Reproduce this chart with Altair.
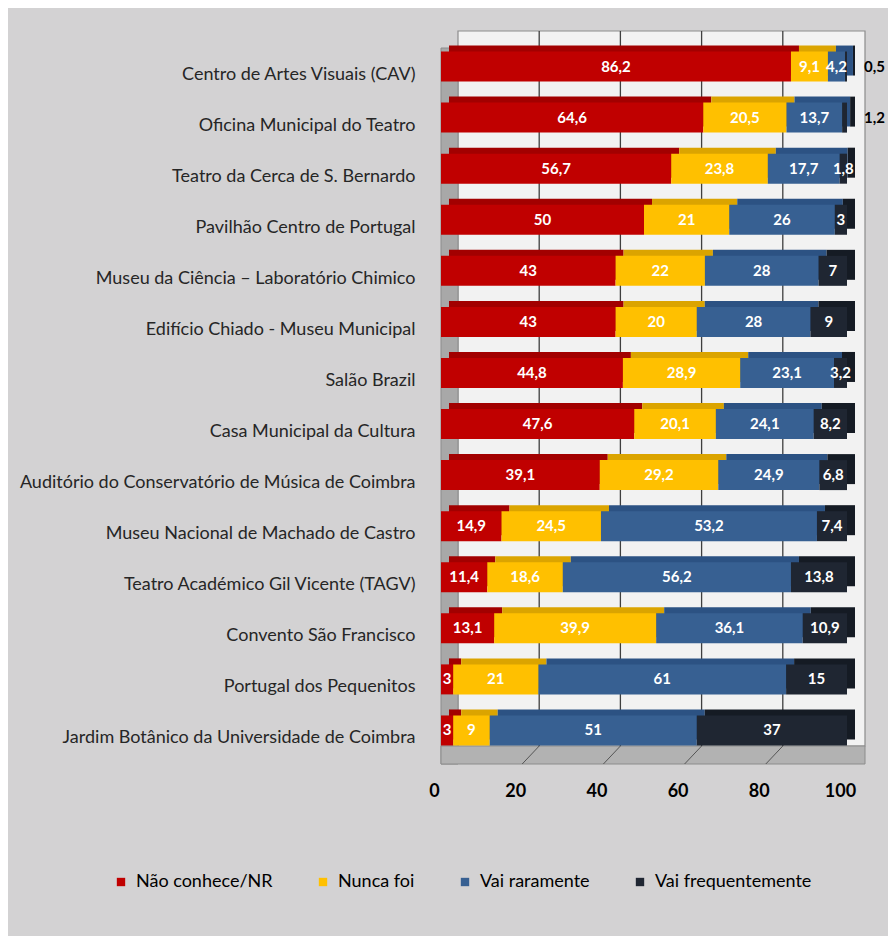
import altair as alt
import pandas as pd

categories = [
    "Centro de Artes Visuais (CAV)",
    "Oficina Municipal do Teatro",
    "Teatro da Cerca de S. Bernardo",
    "Pavilhão Centro de Portugal",
    "Museu da Ciência – Laboratório Chimico",
    "Edifício Chiado - Museu Municipal",
    "Salão Brazil",
    "Casa Municipal da Cultura",
    "Auditório do Conservatório de Música de Coimbra",
    "Museu Nacional de Machado de Castro",
    "Teatro Académico Gil Vicente (TAGV)",
    "Convento São Francisco",
    "Portugal dos Pequenitos",
    "Jardim Botânico da Universidade de Coimbra",
]
nao_conhece = [86.2, 64.6, 56.7, 50, 43, 43, 44.8, 47.6, 39.1, 14.9, 11.4, 13.1, 3, 3]
nunca_foi = [9.1, 20.5, 23.8, 21, 22, 20, 28.9, 20.1, 29.2, 24.5, 18.6, 39.9, 21, 9]
vai_raramente = [4.2, 13.7, 17.7, 26, 28, 28, 23.1, 24.1, 24.9, 53.2, 56.2, 36.1, 61, 51]
vai_frequentemente = [0.5, 1.2, 1.8, 3, 7, 9, 3.2, 8.2, 6.8, 7.4, 13.8, 10.9, 15, 37]

series = ["Não conhece/NR", "Nunca foi", "Vai raramente", "Vai frequentemente"]
colors = ["#c00000", "#ffc000", "#376092", "#1f2632"]
depth_colors = ["#a20000", "#dba400", "#2c5283", "#151b24"]
ticks = [0, 20, 40, 60, 80, 100]

rows = []
for i, c in enumerate(categories):
    for j, vals in enumerate([nao_conhece, nunca_foi, vai_raramente, vai_frequentemente]):
        v = vals[i]
        lab = (str(int(v)) if float(v).is_integer() else str(v)).replace(".", ",")
        rows.append({"cat": c, "serie": series[j], "ord": j, "value": v,
                     "label": lab, "dcol": depth_colors[j]})
df = pd.DataFrame(rows)

W, H = 406, 715
FONT = "Lato"

base = alt.Chart(df).transform_stack(
    stack="value", as_=["x0", "x1"], groupby=["cat"], sort=[alt.SortField("ord")]
).transform_calculate(mid="(datum.x0 + datum.x1) / 2")

xscale = alt.Scale(domain=[0, 100], nice=False, zero=True)
yenc = alt.Y("cat:N", sort=categories, title=None,
             axis=alt.Axis(labelFont=FONT, labelFontSize=18, labelColor="#262626",
                           labelPadding=26, domain=False, ticks=False, labelLimit=600))

grid_df = pd.DataFrame({"t": ticks})

wall = alt.Chart(grid_df).mark_rect(fill="#f2f2f2", stroke="#8c8c8c", strokeWidth=1.2).encode(
    x=alt.value(17), x2=alt.value(W + 18), y=alt.value(-18), y2=alt.value(H - 18)
).transform_filter("datum.t == 0")

left_wall = alt.Chart(grid_df).mark_rect(fill="#a8a8a8", stroke="#8c8c8c", strokeWidth=1).encode(
    x=alt.value(0), x2=alt.value(17), y=alt.value(-1), y2=alt.value(H)
).transform_filter("datum.t == 0")

floor = alt.Chart(grid_df).mark_rect(fill="#b2b2b2", stroke="#8c8c8c", strokeWidth=1).encode(
    x=alt.value(0), x2=alt.value(W + 18), y=alt.value(H - 18), y2=alt.value(H)
).transform_filter("datum.t == 0")

grid = alt.Chart(grid_df).mark_rule(color="#3f3f3f", strokeWidth=1.3, xOffset=17).encode(
    x=alt.X("t:Q", scale=xscale),
    y=alt.value(-18), y2=alt.value(H - 18)
).transform_filter("datum.t > 0 && datum.t < 100")

floor_lines = alt.Chart(grid_df).mark_rule(color="#555555", strokeWidth=1, x2Offset=17).encode(
    x=alt.X("t:Q", scale=xscale), x2="t:Q",
    y=alt.value(H), y2=alt.value(H - 18)
).transform_filter("datum.t > 0 && datum.t < 100")

depth = base.mark_bar(size=30, xOffset=8, x2Offset=8, yOffset=-14, y2Offset=-14).encode(
    x=alt.X("x0:Q", scale=xscale), x2="x1:Q",
    y=yenc,
    fill=alt.Fill("dcol:N", scale=None, legend=None),
)

front = base.mark_bar(size=30, yOffset=-8, y2Offset=-8).encode(
    x=alt.X("x0:Q", scale=xscale,
            axis=alt.Axis(values=ticks, grid=False, domain=False, ticks=False,
                          labelFont=FONT, labelFontSize=18, labelFontWeight="bold",
                          labelColor="#000000", labelPadding=18, labelOffset=-7,
                          labelFlush=False),
            title=None),
    x2="x1:Q",
    y=yenc,
    color=alt.Color("serie:N", scale=alt.Scale(domain=series, range=colors),
                    sort=series,
                    legend=alt.Legend(title=None, orient="none", direction="horizontal",
                                      legendX=-329, legendY=824,
                                      symbolType="square", symbolSize=70,
                                      symbolStrokeWidth=0,
                                      labelFont=FONT, labelFontSize=18, labelColor="#000000",
                                      columnPadding=41, labelOffset=6, labelLimit=300)),
)

labels_in = base.transform_filter("datum.value >= 1.5").mark_text(
    font=FONT, fontSize=15, fontWeight="bold", color="white", yOffset=-8
).encode(
    x=alt.X("mid:Q", scale=xscale), y=yenc, text="label:N"
)

labels_out = base.transform_filter("datum.value < 1.5").mark_text(
    font=FONT, fontSize=15, fontWeight="bold", color="black", align="left", dx=17, yOffset=-8
).encode(
    x=alt.X("x1:Q", scale=xscale), y=yenc, text="label:N"
)

chart = alt.layer(wall, left_wall, floor, grid, floor_lines, depth, front, labels_in, labels_out).properties(
    width=W, height=H,
    padding={"left": 433, "top": 41, "right": 41, "bottom": 172},
    autosize=alt.AutoSizeParams(type="none"),
    background="#d3d2d3",
).configure_view(stroke=None)

chart.save("out.html", embed_options={"renderer": "svg", "actions": False})
